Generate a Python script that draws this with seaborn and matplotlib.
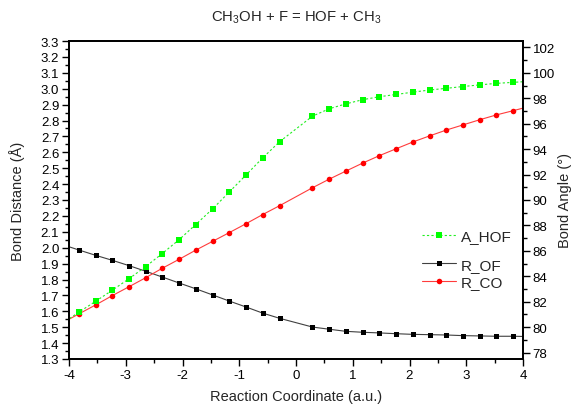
import matplotlib
matplotlib.use("Agg")
import matplotlib.pyplot as plt
from matplotlib.ticker import MultipleLocator, FormatStrFormatter
import seaborn as sns
import pandas as pd

# Reaction coordinate (a.u.); the outermost points lie just beyond the plotted range
coord = [-4.12, -3.83, -3.53, -3.24, -2.94, -2.65, -2.36, -2.06, -1.77, -1.47, -1.18,
         -0.88, -0.59, -0.29, 0.29, 0.59, 0.88, 1.18, 1.47, 1.77, 2.06, 2.36,
         2.65, 2.94, 3.24, 3.53, 3.83, 4.12]

# Bond distances (Å)
r_of = [2.020, 1.986, 1.952, 1.921, 1.887, 1.852, 1.816, 1.778, 1.742, 1.703, 1.665,
        1.627, 1.589, 1.556, 1.501, 1.487, 1.474, 1.468, 1.464, 1.459, 1.455, 1.453,
        1.451, 1.447, 1.445, 1.443, 1.443, 1.441]
r_co = [1.526, 1.583, 1.640, 1.698, 1.755, 1.811, 1.870, 1.927, 1.984, 2.040, 2.094,
        2.151, 2.208, 2.264, 2.377, 2.432, 2.482, 2.533, 2.579, 2.623, 2.665, 2.704,
        2.740, 2.772, 2.805, 2.835, 2.862, 2.889]

# H-O-F bond angle (degrees)
a_hof = [80.30, 81.17, 82.04, 82.90, 83.82, 84.76, 85.78, 86.88, 88.06, 89.30, 90.61,
         91.97, 93.30, 94.58, 96.59, 97.18, 97.56, 97.89, 98.12, 98.30, 98.48, 98.65,
         98.78, 98.92, 99.05, 99.17, 99.25, 99.33]

df = pd.DataFrame({"coord": coord, "R_OF": r_of, "R_CO": r_co, "A_HOF": a_hof})

sns.set_theme(style="ticks")
plt.rcParams["font.family"] = ["Liberation Sans", "DejaVu Sans"]
plt.rcParams["axes.unicode_minus"] = False
plt.rcParams["mathtext.fontset"] = "custom"
plt.rcParams["mathtext.rm"] = "Liberation Sans"
plt.rcParams["mathtext.it"] = "Liberation Sans"

fig = plt.figure(figsize=(5.76, 4.10), dpi=100)
ax = fig.add_axes([69 / 576, 1 - 360 / 410, 454 / 576, 318 / 410])
ax2 = ax.twinx()

sns.lineplot(data=df, x="coord", y="R_OF", ax=ax, color="#404040", lw=0.8,
             marker="s", markersize=3.6, markeredgewidth=0, markerfacecolor="black",
             sort=False, label="R_OF", legend=False)
sns.lineplot(data=df, x="coord", y="R_CO", ax=ax, color="#ff3c3c", lw=0.8,
             marker="o", markersize=4.0, markeredgewidth=0, markerfacecolor="#ff0000",
             sort=False, label="R_CO", legend=False)
sns.lineplot(data=df, x="coord", y="A_HOF", ax=ax2, color="#22ee22", lw=0.8,
             linestyle=(0, (2, 2)), marker="s", markersize=3.8, markeredgewidth=0,
             markerfacecolor="#00ff00", sort=False, label="A_HOF", legend=False)

ax.set_xlim(-4, 4)
ax.set_ylim(1.3, 3.3)
ax2.set_ylim(77.5, 102.5)

ax.xaxis.set_major_locator(MultipleLocator(1))
ax.xaxis.set_minor_locator(MultipleLocator(0.5))
ax.yaxis.set_major_locator(MultipleLocator(0.1))
ax.yaxis.set_minor_locator(MultipleLocator(0.05))
ax.yaxis.set_major_formatter(FormatStrFormatter("%.1f"))
ax2.yaxis.set_major_locator(MultipleLocator(2))
ax2.yaxis.set_minor_locator(MultipleLocator(1))

for a in (ax, ax2):
    for s in a.spines.values():
        s.set_color("black")
        s.set_linewidth(1.3)
    a.tick_params(which="major", length=5, width=1.0, labelsize=9.5, direction="out",
                  colors="black", pad=2)
    a.tick_params(which="minor", length=3, width=1.0, direction="out", colors="black")

ax.set_xlabel("Reaction Coordinate (a.u.)", fontsize=10.5)
ax.set_ylabel("Bond Distance (Å)", fontsize=10.5)
ax2.set_ylabel("Bond Angle (°)", fontsize=10.5)
ax.xaxis.set_label_coords(0.5, -0.095)
ax.yaxis.set_label_coords(-0.097, 0.5)
ax2.yaxis.set_label_coords(1.078, 0.5)

fig.text(296 / 576, 1 - 18 / 410, "CH$_3$OH + F = HOF + CH$_3$", fontsize=10.7,
         ha="center", va="center")

leg_kw = dict(frameon=False, fontsize=11, handlelength=2.2, handletextpad=0.35,
              borderpad=0, borderaxespad=0, labelspacing=0.25, loc="center left")
h2, l2 = ax2.get_legend_handles_labels()
ax2.legend(h2, l2, bbox_to_anchor=(422 / 576, 1 - 237 / 410),
           bbox_transform=fig.transFigure, **leg_kw)
h1, l1 = ax.get_legend_handles_labels()
ax.legend(h1, l1, bbox_to_anchor=(422 / 576, 1 - 274.5 / 410),
          bbox_transform=fig.transFigure, **leg_kw)

fig.savefig("out.png", dpi=100)
